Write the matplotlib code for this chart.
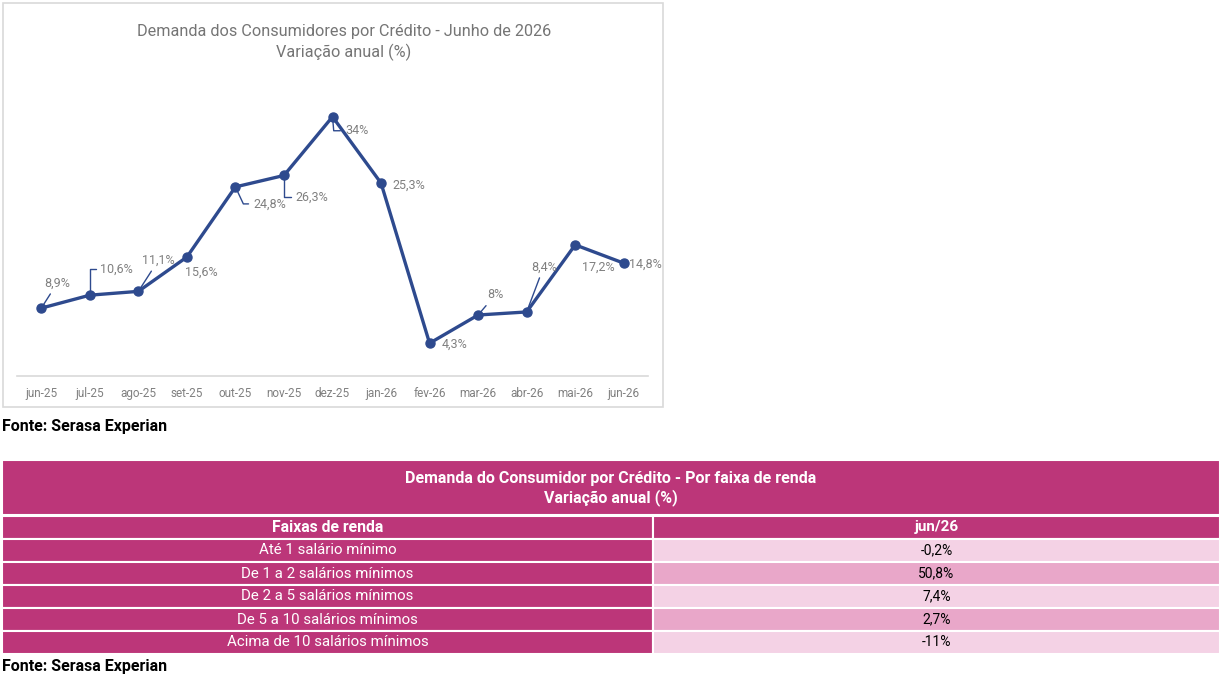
import matplotlib
matplotlib.use("Agg")
import matplotlib.pyplot as plt
from matplotlib.patches import Rectangle

plt.rcParams['font.family'] = ['Roboto', 'DejaVu Sans']

# chart data
meses = ['jun-25', 'jul-25', 'ago-25', 'set-25', 'out-25', 'nov-25', 'dez-25',
         'jan-26', 'fev-26', 'mar-26', 'abr-26', 'mai-26', 'jun-26']
variacao = [8.9, 10.6, 11.1, 15.6, 24.8, 26.3, 34.0, 25.3, 4.3, 8.0, 8.4, 17.2, 14.8]
rotulos = ['8,9%', '10,6%', '11,1%', '15,6%', '24,8%', '26,3%', '34%',
           '25,3%', '4,3%', '8%', '8,4%', '17,2%', '14,8%']

# table data
faixas = ['Até 1 salário mínimo', 'De 1 a 2 salários mínimos', 'De 2 a 5 salários mínimos',
          'De 5 a 10 salários mínimos', 'Acima de 10 salários mínimos']
valores_jun26 = ['-0,2%', '50,8%', '7,4%', '2,7%', '-11%']

AZUL = '#2E4A8E'
CINZA = '#808080'
MAGENTA = '#BC3679'
ROSA_CLARO = '#F4D2E5'
ROSA_MEDIO = '#E9A7C9'

W, H = 1228, 679
fig = plt.figure(figsize=(W / 100, H / 100), dpi=100)

# overlay axes in pixel coords for frame + table
bg = fig.add_axes([0, 0, 1, 1])
bg.set_xlim(0, W)
bg.set_ylim(H, 0)
bg.axis('off')

bg.add_patch(Rectangle((3, 3), 660, 404, fill=False, ec='#D9D9D9', lw=1.2))

# line chart
ax = fig.add_axes([17 / W, 1 - 376 / H, (648 - 17) / W, (376 - 71) / H])
x = list(range(len(meses)))
ax.plot(x, variacao, color=AZUL, lw=2.4, marker='o', ms=6.5, zorder=3)
ax.set_xlim(-0.5, len(meses) - 0.5)
ax.set_ylim(0, 40)
ax.set_xticks(x)
ax.set_xticklabels(meses, color=CINZA, fontsize=8.5)
ax.tick_params(axis='x', length=0, pad=8)
ax.set_yticks([])
for s in ['top', 'left', 'right']:
    ax.spines[s].set_visible(False)
ax.spines['bottom'].set_color('#D9D9D9')
ax.spines['bottom'].set_linewidth(1.2)
ax.patch.set_alpha(0)

# label offsets (pixels, y up) and leader styles
offsets = [(16, 25), (27, 26), (20, 31), (14, -15), (34, -17), (28, -22), (24, -14),
           (28, -2), (25, -1), (17, 20), (17, 45), (23, -22), (22, -1)]
leaders = [
    'arc3,rad=0', 'angle,angleA=0,angleB=90,rad=0', 'arc3,rad=0', None,
    'angle,angleA=0,angleB=-65,rad=0', 'angle,angleA=0,angleB=90,rad=0',
    'angle,angleA=0,angleB=-85,rad=0', None, None,
    'arc3,rad=0', 'arc3,rad=0', None, None,
]
for xi, yi, lab, off, cs in zip(x, variacao, rotulos, offsets, leaders):
    kw = {}
    if cs is not None:
        kw['arrowprops'] = dict(arrowstyle='-', color=AZUL, lw=1.0, shrinkA=1, shrinkB=2,
                                connectionstyle=cs)
        kw['bbox'] = dict(boxstyle='square,pad=0.25', fc='none', ec='none')
    ax.annotate(lab, (xi, yi), xytext=off, textcoords='offset pixels',
                ha='center', va='center', color=CINZA, fontsize=9, zorder=4, **kw)

fig.text(344 / W, 1 - 42.5 / H, 'Demanda dos Consumidores por Crédito - Junho de 2026\nVariação anual (%)',
         ha='center', va='center', color='#757575', fontsize=11.7, linespacing=1.35)

bg.text(2, 426, 'Fonte: Serasa Experian', ha='left', va='center', fontsize=11.5,
        fontweight='bold', color='black')

# table
x0, xm, x1 = 2, 653, 1220
bg.add_patch(Rectangle((x0, 460), x1 - x0, 55, fc=MAGENTA, ec='white', lw=1.5))
bg.text((x0 + x1) / 2, 488.5, 'Demanda do Consumidor por Crédito - Por faixa de renda\nVariação anual (%)',
        ha='center', va='center', color='white', fontsize=11.5, fontweight='bold', linespacing=1.25)

row_h = 23
y = 516
bg.add_patch(Rectangle((x0, y), xm - x0, row_h, fc=MAGENTA, ec='white', lw=1.5))
bg.add_patch(Rectangle((xm, y), x1 - xm, row_h, fc=MAGENTA, ec='white', lw=1.5))
bg.text((x0 + xm) / 2, y + row_h / 2, 'Faixas de renda', ha='center', va='center',
        color='white', fontsize=11.3, fontweight='bold')
bg.text((xm + x1) / 2, y + row_h / 2, 'jun/26', ha='center', va='center',
        color='white', fontsize=11, fontweight='bold')

for i, (faixa, val) in enumerate(zip(faixas, valores_jun26)):
    y = 539 + i * row_h
    cor = ROSA_CLARO if i % 2 == 0 else ROSA_MEDIO
    bg.add_patch(Rectangle((x0, y), xm - x0, row_h, fc=MAGENTA, ec='white', lw=1.5))
    bg.add_patch(Rectangle((xm, y), x1 - xm, row_h, fc=cor, ec='white', lw=1.5))
    bg.text((x0 + xm) / 2, y + row_h / 2, faixa, ha='center', va='center',
            color='white', fontsize=10.8)
    bg.text((xm + x1) / 2, y + row_h / 2, val, ha='center', va='center',
            color='black', fontsize=10)

bg.text(2, 666, 'Fonte: Serasa Experian', ha='left', va='center', fontsize=11.5,
        fontweight='bold', color='black')

fig.savefig('out.png', dpi=100)
